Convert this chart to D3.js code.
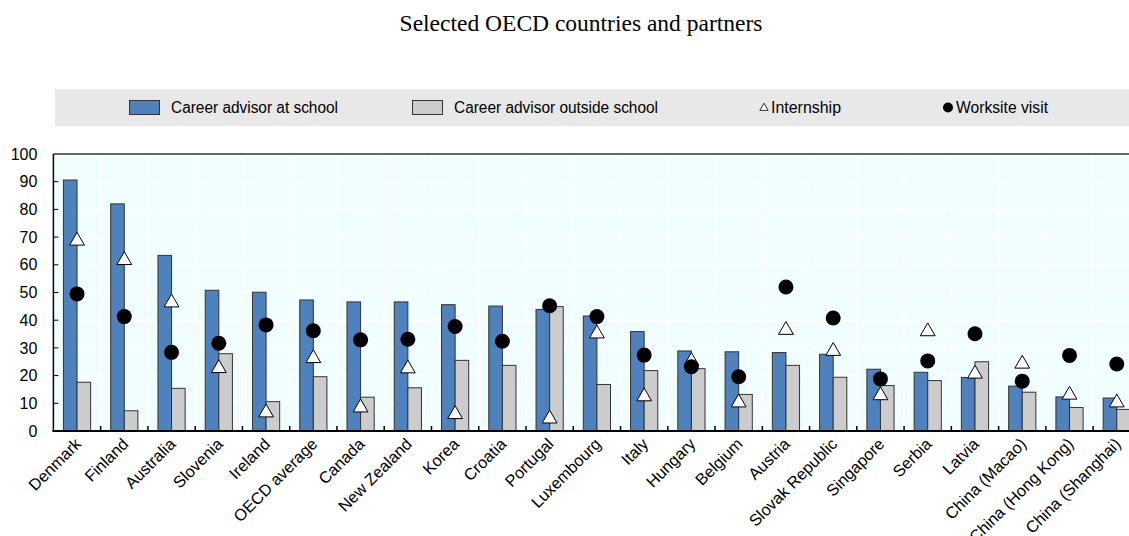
<!DOCTYPE html>
<html>
<head>
<meta charset="utf-8">
<script src="https://cdn.jsdelivr.net/npm/d3@7"></script>
<style>
  html, body { margin: 0; padding: 0; background: #fff; }
  svg { display: block; }
</style>
</head>
<body>
<svg id="chart" width="1129" height="536"></svg>
<script>
const categories = ["Denmark","Finland","Australia","Slovenia","Ireland","OECD average","Canada","New Zealand","Korea","Croatia","Portugal","Luxembourg","Italy","Hungary","Belgium","Austria","Slovak Republic","Singapore","Serbia","Latvia","China (Macao)","China (Hong Kong)","China (Shanghai)"];
const advisorSchool =  [90.6,82.0,63.4,50.8,50.1,47.3,46.6,46.6,45.6,45.1,43.9,41.5,35.9,28.9,28.6,28.3,27.7,22.3,21.2,19.3,16.2,12.3,11.9];
const advisorOutside = [17.6,7.3,15.4,27.9,10.6,19.6,12.2,15.6,25.5,23.7,44.9,16.8,21.8,22.5,13.2,23.7,19.4,16.4,18.2,25.0,14.0,8.5,7.8];
const internship =     [69.0,62.0,46.7,23.0,7.0,26.6,8.8,22.9,6.4,null,4.8,35.5,12.8,25.6,10.6,36.8,29.2,13.2,36.3,21.0,24.6,13.4,10.6];
const worksite =       [49.5,41.3,28.4,31.7,38.3,36.2,32.9,33.1,37.7,32.4,45.2,41.3,27.4,23.2,19.6,52.0,40.8,18.8,25.3,35.1,18.0,27.3,24.2];
const yTicks = [0,10,20,30,40,50,60,70,80,90,100];
const seriesNames = ["Career advisor at school","Career advisor outside school","Internship","Worksite visit"];
const title = "Selected OECD countries and partners";

(function () {
const svg = d3.select("#chart");
const pLeft = 53.4, pRight = 1140.4, pTop = 154, pBottom = 431;
const blue = "#4F81BD", grey = "#CCCCCC", stroke = "#333";

// title
svg.append("text").attr("x", 581).attr("y", 31).attr("text-anchor", "middle")
  .attr("font-family", "Liberation Serif, Times New Roman, serif").attr("font-size", 23.5)
  .attr("fill", "#000").text(title);

// legend
svg.append("rect").attr("x", 55).attr("y", 89).attr("width", 1100).attr("height", 37).attr("fill", "#E8E8E8");
const lg = svg.append("g").attr("font-family", "Liberation Sans, Arial, sans-serif").attr("font-size", 16).attr("fill", "#000");
lg.append("rect").attr("x", 129.5).attr("y", 100.5).attr("width", 30).attr("height", 14).attr("fill", blue).attr("stroke", stroke);
lg.append("text").attr("x", 171).attr("y", 113).attr("textLength", 167).attr("lengthAdjust", "spacingAndGlyphs").text(seriesNames[0]);
lg.append("rect").attr("x", 412.5).attr("y", 100.5).attr("width", 30).attr("height", 14).attr("fill", grey).attr("stroke", stroke);
lg.append("text").attr("x", 454).attr("y", 113).attr("textLength", 204).attr("lengthAdjust", "spacingAndGlyphs").text(seriesNames[1]);
lg.append("path").attr("d", d3.symbol(d3.symbolTriangle, 30)()).attr("transform", "translate(764,108)")
  .attr("fill", "#fff").attr("stroke", "#000").attr("stroke-width", 0.8);
lg.append("text").attr("x", 771).attr("y", 113).attr("textLength", 70).attr("lengthAdjust", "spacingAndGlyphs").text(seriesNames[2]);
lg.append("circle").attr("cx", 948).attr("cy", 107.5).attr("r", 5).attr("fill", "#000");
lg.append("text").attr("x", 956).attr("y", 113).attr("textLength", 92).attr("lengthAdjust", "spacingAndGlyphs").text(seriesNames[3]);

// scales
const x = d3.scaleBand().domain(categories).range([pLeft, pRight]).paddingInner(0).paddingOuter(0);
const y = d3.scaleLinear().domain([0, 100]).range([pBottom, pTop]);
const bw = 13.6;

// plot background
svg.append("rect").attr("x", pLeft).attr("y", pTop).attr("width", pRight - pLeft).attr("height", pBottom - pTop).attr("fill", "#F1FEFF");

// grid
const grid = svg.append("g").attr("stroke", "#fff").attr("stroke-width", 1.5);
yTicks.slice(1, -1).forEach(t => {
  grid.append("line").attr("x1", pLeft).attr("x2", pRight).attr("y1", y(t)).attr("y2", y(t));
});
categories.slice(1).forEach(c => {
  grid.append("line").attr("x1", x(c)).attr("x2", x(c)).attr("y1", pTop).attr("y2", pBottom);
});

// bars
const g = svg.append("g");
g.selectAll("rect.s1").data(categories).join("rect").attr("class", "s1")
  .attr("x", (d) => x(d) + x.bandwidth() / 2 - bw)
  .attr("y", (d, i) => y(advisorSchool[i]))
  .attr("width", bw).attr("height", (d, i) => y(0) - y(advisorSchool[i]))
  .attr("fill", blue).attr("stroke", stroke).attr("stroke-width", 1);
g.selectAll("rect.s2").data(categories).join("rect").attr("class", "s2")
  .attr("x", (d) => x(d) + x.bandwidth() / 2)
  .attr("y", (d, i) => y(advisorOutside[i]))
  .attr("width", bw).attr("height", (d, i) => y(0) - y(advisorOutside[i]))
  .attr("fill", grey).attr("stroke", stroke).attr("stroke-width", 1);

// markers
const triPath = d3.symbol(d3.symbolTriangle, 95)();
g.selectAll("path.tri").data(categories.map((c, i) => ({ c, v: internship[i] })).filter(d => d.v !== null)).join("path")
  .attr("class", "tri").attr("d", triPath)
  .attr("transform", d => `translate(${x(d.c) + x.bandwidth() / 2},${y(d.v) + 1})`)
  .attr("fill", "#fff").attr("stroke", "#000").attr("stroke-width", 1);
g.selectAll("circle.ws").data(categories).join("circle").attr("class", "ws")
  .attr("cx", d => x(d) + x.bandwidth() / 2)
  .attr("cy", (d, i) => y(worksite[i]))
  .attr("r", 7.5).attr("fill", "#000");

// axes
const yAxis = svg.append("g").attr("transform", `translate(${pLeft},0)`)
  .call(d3.axisLeft(y).tickValues(yTicks).tickSize(0).tickPadding(16));
yAxis.select(".domain").remove();
yAxis.selectAll("text").attr("font-family", "Liberation Sans, Arial, sans-serif").attr("font-size", 16).attr("fill", "#000");
svg.append("g").selectAll("line").data(yTicks.slice(1, -1)).join("line")
  .attr("x1", pLeft).attr("x2", pLeft + 5).attr("y1", d => y(d)).attr("y2", d => y(d))
  .attr("stroke", "#000").attr("stroke-width", 1);

// frame lines
svg.append("line").attr("x1", pLeft).attr("x2", pRight).attr("y1", pTop).attr("y2", pTop).attr("stroke", "#333").attr("stroke-width", 1.5);
svg.append("line").attr("x1", pLeft).attr("x2", pLeft).attr("y1", pTop).attr("y2", pBottom).attr("stroke", "#000").attr("stroke-width", 1.5);

// x axis
const xAxis = svg.append("g").attr("transform", `translate(0,${pBottom})`)
  .call(d3.axisBottom(x).tickSize(0).tickPadding(0));
xAxis.select(".domain").remove();
xAxis.selectAll("text")
  .attr("font-family", "Liberation Sans, Arial, sans-serif").attr("font-size", 16.3).attr("fill", "#000")
  .attr("text-anchor", "end").attr("dy", 0)
  .attr("transform", "translate(5,14) rotate(-45)");
svg.append("g").selectAll("line").data(categories.slice(1)).join("line")
  .attr("x1", d => x(d)).attr("x2", d => x(d)).attr("y1", pBottom).attr("y2", pBottom - 5)
  .attr("stroke", "#000").attr("stroke-width", 1.5);
svg.append("line").attr("x1", pLeft - 1).attr("x2", pRight).attr("y1", pBottom).attr("y2", pBottom).attr("stroke", "#000").attr("stroke-width", 2);
})();
</script>
</body>
</html>
